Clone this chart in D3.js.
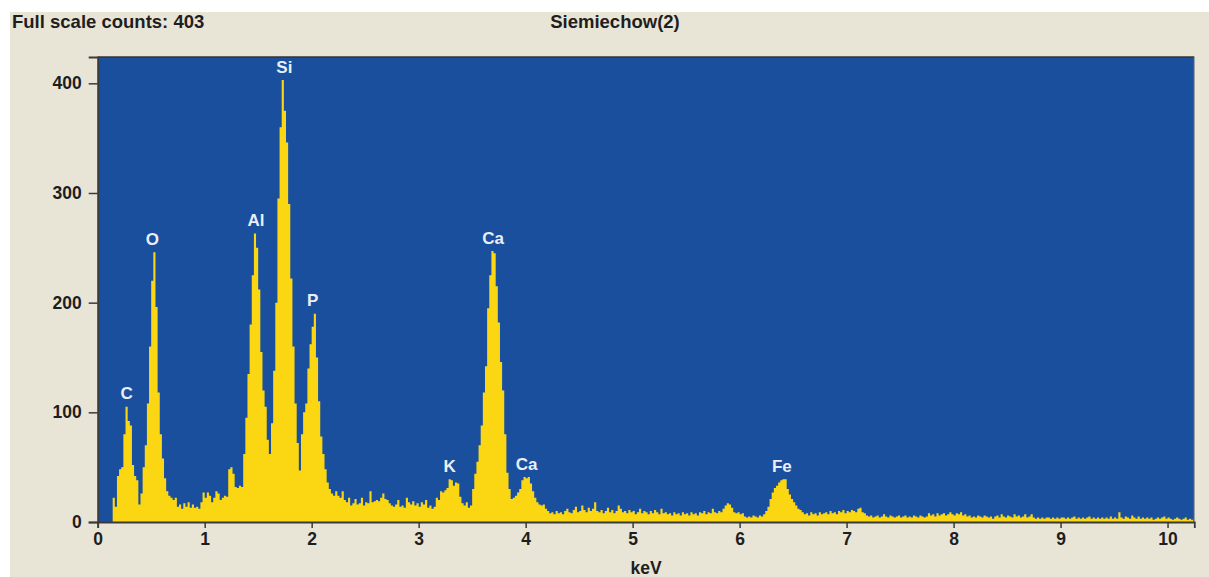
<!DOCTYPE html>
<html>
<head>
<meta charset="utf-8">
<script src="https://cdn.jsdelivr.net/npm/d3@7/dist/d3.min.js"></script>
<style>
  html, body { margin: 0; padding: 0; background: #ffffff; }
  svg { display: block; }
  text { font-family: "Liberation Sans", Arial, sans-serif; }
</style>
</head>
<body>
<svg id="chart" width="1209" height="577"></svg>
<script>
// ---- data ----
const chartTitle = "Siemiechow(2)";
const fullScale = "Full scale counts: 403";
const xAxisLabel = "keV";
const xTicks = [0, 1, 2, 3, 4, 5, 6, 7, 8, 9, 10];
const yTicks = [0, 100, 200, 300, 400];
const xDomain = [0, 10.25];
const yDomain = [0, 424];
const channelStart = 0.14;   // keV of first channel
const channelWidth = 0.02;   // keV per channel
const counts = [
  // 0.14 - 1.14
  22,14,42,48,50,80,105,92,88,52,42,38,16,26,50,70,108,160,220,246,
  196,118,80,58,40,28,24,22,20,22,14,16,12,17,14,18,13,16,13,14,
  12,18,27,22,27,24,18,22,28,26,20,
  // 1.16 - 2.28
  22,24,23,48,50,44,32,31,33,32,62,95,135,180,225,263,250,212,155,120,
  105,75,62,90,138,200,295,360,403,375,346,290,222,160,108,72,47,80,100,108,
  140,162,178,190,150,110,78,62,48,36,30,26,24,28,24,22,28,
  // 2.30 - 3.48
  20,18,22,15,17,21,16,17,22,15,18,17,28,18,19,20,19,22,26,21,
  20,17,15,14,16,20,14,15,13,22,18,16,19,15,17,14,18,16,20,13,
  15,12,14,22,20,28,27,29,31,39,38,33,36,35,23,17,15,18,13,15,
  // 3.50 - 4.48
  30,44,55,70,88,118,142,195,225,247,245,215,182,146,120,80,45,30,21,22,
  24,27,30,38,41,40,41,35,28,22,18,16,15,16,12,10,8,9,7,10,
  8,9,7,10,12,9,8,11,14,9,
  // 4.50 - 5.48
  10,15,11,9,13,10,12,18,10,9,11,8,10,13,9,11,8,10,15,12,
  9,10,8,11,9,10,7,9,12,8,10,9,7,10,8,11,9,7,12,8,
  9,7,8,6,9,7,8,6,9,7,
  // 5.50 - 6.48
  8,6,9,7,8,6,9,8,10,7,9,8,12,9,8,10,9,12,15,17,
  16,13,9,8,9,7,8,5,4,5,4,6,5,4,6,5,7,10,14,21,
  27,31,33,36,38,39,39,30,25,21,
  // 6.50 - 7.48
  18,15,12,11,9,7,8,6,9,7,8,6,9,7,8,9,7,10,8,9,
  7,10,9,11,8,10,9,11,10,9,12,13,9,8,6,5,6,4,5,6,
  4,5,7,5,4,6,5,4,5,6,
  // 7.50 - 8.48
  4,5,6,4,5,4,6,5,4,6,5,4,5,8,6,7,5,8,6,7,
  8,6,7,9,7,6,8,7,9,6,7,5,6,4,5,4,6,5,4,6,
  5,4,5,3,5,6,4,7,5,4,
  // 8.50 - 9.48
  6,5,4,7,5,6,4,5,7,4,5,7,4,3,4,3,4,3,4,4,
  3,4,3,4,3,4,4,3,4,3,4,5,3,4,3,4,3,4,5,3,
  4,3,4,3,4,3,4,3,5,3,
  // 9.50 - 10.22
  4,3,9,4,3,5,4,3,6,4,3,5,3,4,3,4,3,4,2,3,
  4,3,4,5,3,4,3,2,3,4,3,2,3,4,2,3,2
];
const peakLabels = [
  { name: "C",  keV: 0.27, counts: 105 },
  { name: "O",  keV: 0.51, counts: 246 },
  { name: "Al", keV: 1.48, counts: 263 },
  { name: "Si", keV: 1.745, counts: 403 },
  { name: "P",  keV: 2.01, counts: 190 },
  { name: "K",  keV: 3.29, counts: 39 },
  { name: "Ca", keV: 3.695, counts: 247 },
  { name: "Ca", keV: 4.01, counts: 41 },
  { name: "Fe", keV: 6.395, counts: 39 }
];

// ---- layout ----
const W = 1209, H = 577;
const plot = { left: 97.7, right: 1194.3, top: 57, bottom: 522 };
const COLORS = {
  panel: "#e9e5d6",
  plotBg: "#1a4f9d",
  spectrum: "#fbd713",
  frame: "#3a3a3a",
  text: "#1e1e1e",
  peakText: "#e9eef7"
};

const svg = d3.select("#chart");

// outer panel
svg.append("rect").attr("x", 0).attr("y", 0).attr("width", W).attr("height", H).attr("fill", "#ffffff");
svg.append("rect").attr("x", 10).attr("y", 12).attr("width", W - 10).attr("height", H - 12).attr("fill", COLORS.panel);

const x = d3.scaleLinear().domain(xDomain).range([plot.left, plot.right]);
const y = d3.scaleLinear().domain(yDomain).range([plot.bottom, plot.top]);

// plot background
svg.append("rect")
  .attr("x", plot.left).attr("y", plot.top)
  .attr("width", plot.right - plot.left).attr("height", plot.bottom - plot.top)
  .attr("fill", COLORS.plotBg);

// spectrum as step area
const pts = counts.map((c, i) => ({ e: channelStart + i * channelWidth, v: c }));
pts.push({ e: channelStart + counts.length * channelWidth, v: counts[counts.length - 1] });

const area = d3.area()
  .curve(d3.curveStepAfter)
  .x(d => x(d.e))
  .y0(y(0))
  .y1(d => y(d.v));

svg.append("path")
  .datum(pts)
  .attr("d", area)
  .attr("fill", COLORS.spectrum);

// frame
svg.append("line").attr("x1", plot.left).attr("x2", plot.right).attr("y1", plot.top).attr("y2", plot.top)
  .attr("stroke", "#333").attr("stroke-width", 1.5);
svg.append("line").attr("x1", plot.right).attr("x2", plot.right).attr("y1", plot.top).attr("y2", plot.bottom)
  .attr("stroke", "#9a9a9a").attr("stroke-width", 1);

// axes
const xAxis = d3.axisBottom(x).tickValues(xTicks).tickFormat(d3.format("d")).tickSize(6).tickPadding(5);
const gx = svg.append("g").attr("transform", `translate(0,${plot.bottom})`).call(xAxis);
gx.select(".domain").attr("stroke", COLORS.frame).attr("stroke-width", 1.8);
gx.selectAll(".tick line").attr("stroke", COLORS.frame).attr("stroke-width", 1.5);
gx.selectAll(".tick text").attr("fill", COLORS.text).attr("font-size", "17.5px").attr("font-weight", "bold")
  .attr("font-family", "'Liberation Sans', Arial, sans-serif");

const yAxis = d3.axisLeft(y).tickValues(yTicks).tickFormat(d3.format("d")).tickSize(9).tickPadding(7);
const gy = svg.append("g").attr("transform", `translate(${plot.left},0)`).call(yAxis);
gy.select(".domain").attr("stroke", COLORS.frame).attr("stroke-width", 1.8);
gy.selectAll(".tick line").attr("stroke", COLORS.frame).attr("stroke-width", 1.5);
gy.selectAll(".tick text").attr("fill", COLORS.text).attr("font-size", "17.5px").attr("font-weight", "bold")
  .attr("font-family", "'Liberation Sans', Arial, sans-serif");

// titles
svg.append("text").attr("x", 12).attr("y", 28)
  .attr("font-size", "18.5px").attr("font-weight", "bold").attr("fill", COLORS.text)
  .text(fullScale);
svg.append("text").attr("x", 615).attr("y", 28).attr("text-anchor", "middle")
  .attr("font-size", "18.5px").attr("font-weight", "bold").attr("fill", COLORS.text)
  .text(chartTitle);
svg.append("text").attr("x", (plot.left + plot.right) / 2).attr("y", 574).attr("text-anchor", "middle")
  .attr("font-size", "17.5px").attr("font-weight", "bold").attr("fill", COLORS.text)
  .text(xAxisLabel);

// peak labels
svg.append("g").selectAll("text")
  .data(peakLabels)
  .join("text")
  .attr("x", d => x(d.keV))
  .attr("y", d => y(d.counts) - 7.5)
  .attr("text-anchor", "middle")
  .attr("font-size", "17px")
  .attr("font-weight", "bold")
  .attr("fill", COLORS.peakText)
  .text(d => d.name);
</script>
</body>
</html>
